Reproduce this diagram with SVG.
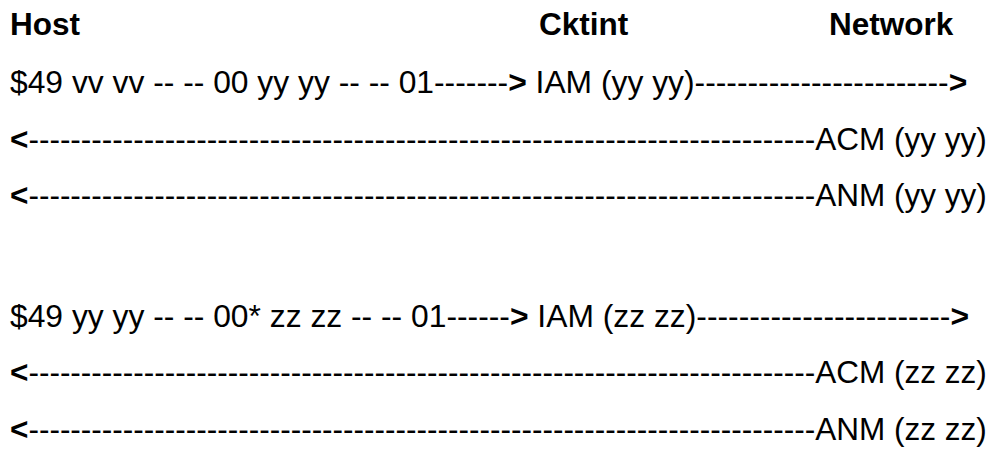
<svg xmlns="http://www.w3.org/2000/svg" width="996" height="449" viewBox="0 0 996 449">
<style>
text{font-family:"Liberation Sans",Arial,sans-serif;font-size:31.5px;fill:#000;white-space:pre}
.b{font-weight:bold}
.w{font-size:31.8px}
</style>
<rect width="996" height="449" fill="#fff"/>
<g id="headers">
<text id="host" class="b" x="10" y="35">Host</text>
<text id="cktint" class="b" x="539" y="35">Cktint</text>
<text id="network" class="b" x="829" y="35">Network</text>
</g>
<g id="connectors">
<text class="w" x="10" y="93">$49 vv vv -- -- 00 yy yy -- -- 01-------<tspan class="b">&gt;</tspan> IAM (yy yy)------------------------<tspan class="b">&gt;</tspan></text>
<text x="10" y="150"><tspan class="b">&lt;</tspan>---------------------------------------------------------------------------ACM (yy yy)</text>
<text x="10" y="206"><tspan class="b">&lt;</tspan>---------------------------------------------------------------------------ANM (yy yy)</text>
<text class="w" x="10" y="327">$49 yy yy -- -- 00* zz zz -- -- 01------<tspan class="b">&gt;</tspan> IAM (zz zz)------------------------<tspan class="b">&gt;</tspan></text>
<text x="10" y="383"><tspan class="b">&lt;</tspan>---------------------------------------------------------------------------ACM (zz zz)</text>
<text x="10" y="440"><tspan class="b">&lt;</tspan>---------------------------------------------------------------------------ANM (zz zz)</text>
</g>
</svg>
